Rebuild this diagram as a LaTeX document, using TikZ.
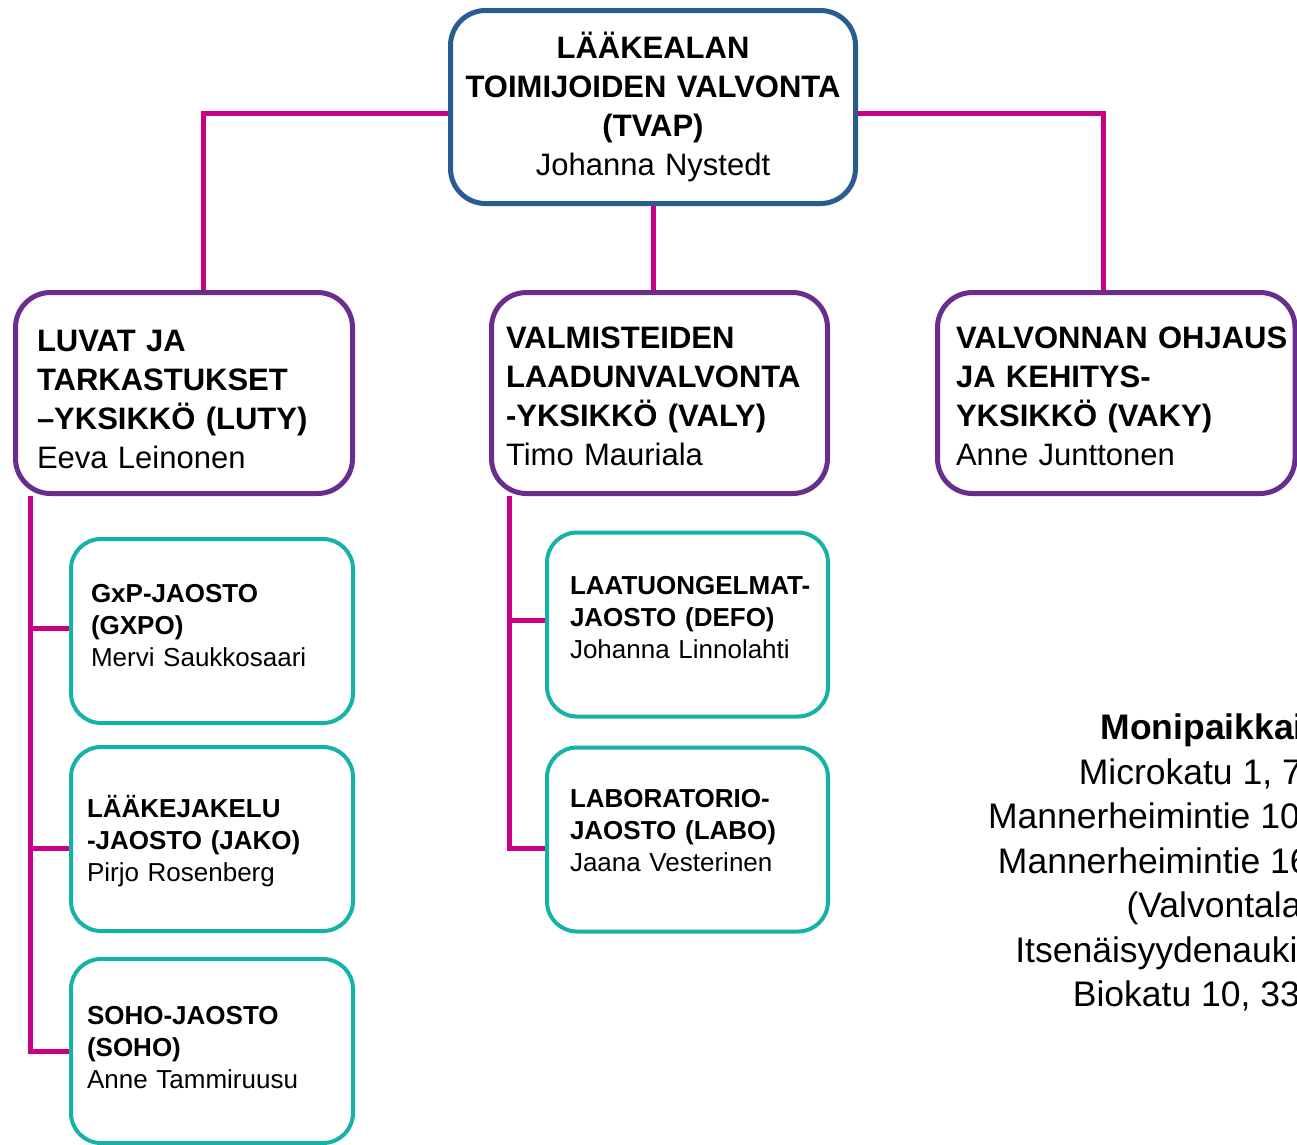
\documentclass[tikz,border=0pt]{standalone}
\usepackage{fontspec}
\setmainfont{Liberation Sans}
\usepackage{tikz}
\usetikzlibrary{backgrounds}
\hfuzz=60pt
\hyphenpenalty=10000
\exhyphenpenalty=10000
\definecolor{linkmagenta}{RGB}{200,0,132}
\definecolor{headblue}{RGB}{43,92,143}
\definecolor{unitpurple}{RGB}{107,45,140}
\definecolor{teamteal}{RGB}{20,178,168}
\tikzset{
	link/.style={draw=linkmagenta, line width=5pt}, % magenta connectors
	head/.style={draw=headblue, line width=5pt, rounded corners=35pt, fill=white,
		minimum width=405pt, minimum height=193pt, text width=385pt, inner xsep=10pt,
		align=center, font=\fontsize{31}{39}\selectfont},
	% text width, left inset, depth (sets the first baseline)
	unit/.style n args={3}{draw=unitpurple, line width=5pt, rounded corners=35pt, fill=white,
		minimum height=201pt, text width=#1, inner xsep=#2, text height=0pt, text depth=#3,
		align=left, font=\fontsize{31}{39}\selectfont},
	team/.style n args={3}{draw=teamteal, line width=4pt, rounded corners=30pt, fill=white,
		minimum height=184pt, text width=#1, inner xsep=#2, text height=0pt, text depth=#3,
		align=left, font=\fontsize{26}{32}\selectfont},
	sites/.style={align=center, font=\fontsize{35.5}{44.5}\selectfont},
}
\begin{document}
\begin{tikzpicture}[x=1pt, y=-1pt]
	\useasboundingbox (0,0) rectangle (1297,1144);
	\clip (0,0) rectangle (1297,1144);

	% top
	\node[head] (tvap) at (653,107) {\textbf{LÄÄKEALAN\\TOIMIJOIDEN VALVONTA\\(TVAP)}\\Johanna Nystedt};

	% units
	\node[unit={294pt}{21.5pt}{84pt}] (luty) at (184,393) {\textbf{LUVAT JA\\TARKASTUKSET\\–YKSIKKÖ (LUTY)}\\Eeva Leinonen};
	\node[unit={307pt}{14.5pt}{90pt}] (valy) at (659.5,393) {\textbf{VALMISTEIDEN\\LAADUNVALVONTA\\-YKSIKKÖ (VALY)}\\Timo Mauriala};
	\node[unit={320.5pt}{18.5pt}{90pt}] (vaky) at (1116.25,393) {\textbf{\mbox{VALVONNAN OHJAUS}\\JA KEHITYS-\\YKSIKKÖ (VAKY)}\\Anne Junttonen};

	% jaostot
	\node[team={242pt}{20pt}{57pt}] (gxpo) at (212,631) {\textbf{GxP-JAOSTO\\(GXPO)}\\Mervi Saukkosaari};
	\node[team={250pt}{16pt}{43pt}] (jako) at (212,839) {\textbf{LÄÄKEJAKELU\\-JAOSTO (JAKO)}\\Pirjo Rosenberg};
	\node[team={250pt}{16pt}{53pt}] (soho) at (212,1051) {\textbf{SOHO-JAOSTO\\(SOHO)}\\Anne Tammiruusu};
	\node[team={235pt}{23pt}{60pt}] (defo) at (687.5,624.5) {\textbf{\mbox{LAATUONGELMAT-}\\JAOSTO (DEFO)}\\Johanna Linnolahti};
	\node[team={235pt}{23pt}{64pt}] (labo) at (687.5,839.5) {\textbf{LABORATORIO-\\JAOSTO (LABO)}\\Jaana Vesterinen};

	% toimipaikat
	\node[sites] (sites) at (1290,864) {\textbf{Monipaikkainen Fimea}\\Microkatu 1, 70210 Kuopio\\Mannerheimintie 103b, 00300 Helsinki\\Mannerheimintie 166, 00300 Helsinki\\(Valvontalaboratorio)\\Itsenäisyydenaukio 2, 20800 Turku\\Biokatu 10, 33520 Tampere};

	\begin{scope}[on background layer]
		\draw[link] ([yshift=-6pt]tvap.west) -| ([xshift=19pt]luty.north);
		\draw[link] ([yshift=-6pt]tvap.east) -| ([xshift=-13pt]vaky.north);
		\draw[link] (tvap.south) -- (tvap.south |- valy.north);

		\coordinate (lutybus) at ([xshift=17.5pt]luty.south west);
		\draw[link] (lutybus) |- (soho.west);
		\draw[link] ([yshift=3pt]gxpo.west) -- ([yshift=3pt]gxpo.west -| lutybus);
		\draw[link] ([yshift=-9pt]jako.west) -- ([yshift=-9pt]jako.west -| lutybus);

		\coordinate (valybus) at ([xshift=20.5pt]valy.south west);
		\draw[link] (valybus) |- ([yshift=-8.5pt]labo.west);
		\draw[link] ([yshift=4.5pt]defo.west) -- ([yshift=4.5pt]defo.west -| valybus);
	\end{scope}
\end{tikzpicture}
\end{document}
